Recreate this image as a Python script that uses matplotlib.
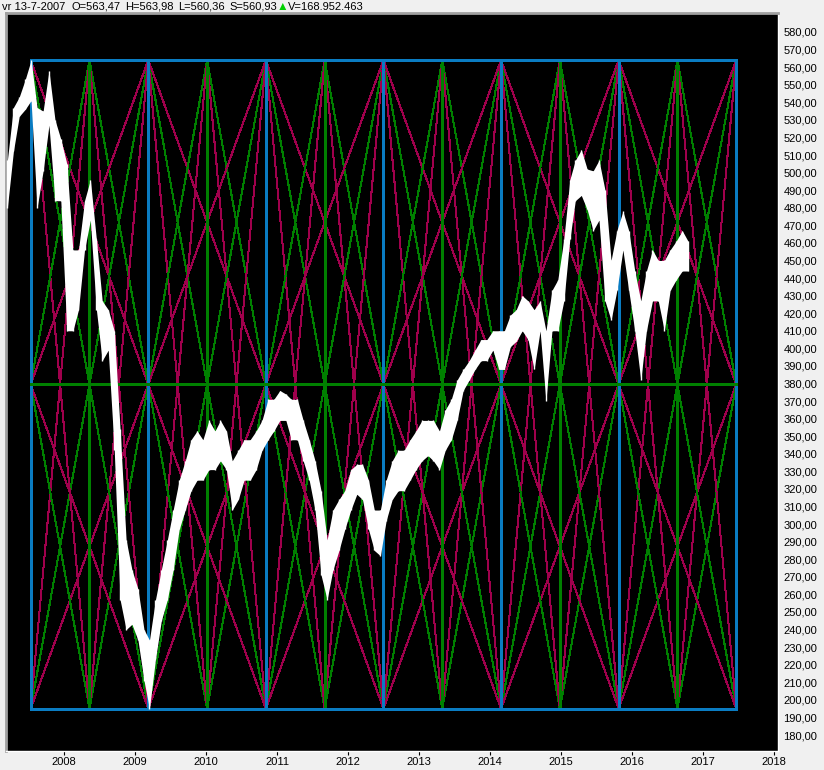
import numpy as np
import matplotlib
matplotlib.use('Agg')
import matplotlib.pyplot as plt
import matplotlib.dates as mdates
from matplotlib.ticker import FuncFormatter

#####################   Data   ##################################
# monthly ranges (index points), Mar 2007 .. Oct 2016
months = np.arange('2007-03', '2016-11', dtype='datetime64[M]')
price_lo = [480, 512, 532, 536, 541, 480, 501, 527, 484, 484,
            410, 410, 422, 456, 473, 422, 393, 399, 342, 257, 240, 243,
            234, 211, 195, 223, 245, 257, 274, 297, 308, 319, 325, 325,
            331, 331, 336, 331, 308, 314, 325, 325, 331, 342, 348, 353,
            359, 359, 348, 348, 336, 325, 308, 271, 257, 274, 285, 297,
            308, 317, 314, 297, 285, 282, 302, 314, 319, 319, 325, 331,
            336, 339, 336, 331, 342, 348, 359, 376, 382, 388, 393, 393,
            399, 388, 388, 401, 404, 410, 405, 388, 410, 370, 410, 410,
            427, 462, 484, 487, 479, 467, 473, 427, 416, 433, 456, 433,
            410, 382, 410, 427, 427, 410, 433, 439, 444, 444]
price_hi = [507, 537, 543, 553, 564, 537, 535, 558, 530, 519,
            505, 456, 456, 484, 496, 462, 427, 422, 410, 354, 291, 274,
            263, 240, 234, 257, 274, 291, 308, 325, 336, 348, 353, 348,
            359, 353, 359, 353, 336, 342, 348, 348, 353, 359, 371, 371,
            376, 374, 371, 371, 359, 348, 336, 319, 291, 308, 314, 319,
            331, 334, 334, 325, 308, 308, 325, 336, 342, 342, 348, 353,
            359, 359, 359, 353, 365, 371, 382, 388, 393, 399, 405, 405,
            410, 410, 410, 419, 422, 430, 427, 422, 427, 410, 433, 439,
            462, 496, 507, 513, 502, 501, 507, 490, 450, 467, 478, 467,
            444, 427, 444, 456, 450, 450, 456, 461, 467, 461]

# header of the selected bar
hdr_date = 'vr 13-7-2007'
hdr_ohlc = ['O=563,47', 'H=563,98', 'L=560,36', 'S=560,93']
hdr_vol = 'V=168.952.463'

# pivots that define the cycle box (high = cycle 0, low = cycle 2)
pivot_high_date = '2007-07-13'
pivot_high = 563.98
pivot_low_date = '2009-03-09'
pivot_low = 194.99
n_seg = 12

blue = '#0a7cc2'
green = '#008000'
red = '#a0004c'

plt.rcParams['font.family'] = ['Liberation Sans', 'DejaVu Sans']
plt.rcParams['font.size'] = 8

fig = plt.figure(figsize=(8.24, 7.7), dpi=100)
fig.patch.set_facecolor('#f0f0f0')
ax = fig.add_axes([6 / 824, 19 / 770, 772 / 824, 738 / 770])
ax.set_facecolor('black')

################# CYCLE GRID ######################
t0 = mdates.date2num(np.datetime64(pivot_high_date))
t1 = mdates.date2num(np.datetime64(pivot_low_date))
seg = (t1 - t0) / 2
xk = t0 + seg * np.arange(n_seg + 1)
mid = (pivot_high + pivot_low) / 2
xmin, xmax = xk[0], xk[-1]

kw = dict(lw=0.75, antialiased=False)


def fan(x, apex, dx, col):
    # straight line from the apex to the mid line, cut at the box sides
    xe = x + dx
    ye = mid
    if xe < xmin or xe > xmax:
        xc = xmin if xe < xmin else xmax
        ye = apex + (mid - apex) * (xc - x) / dx
        xe = xc
    ax.plot([x, xe], [apex, ye], color=col, **kw)


for k, x in enumerate(xk):
    for apex in (pivot_high, pivot_low):
        fans = [(seg, green), (seg / 2, red)]
        if k % 2 == 0:
            fans.append((2 * seg, red))
        for dx, col in fans:
            fan(x, apex, -dx, col)
            fan(x, apex, dx, col)
for k, x in enumerate(xk):
    ax.plot([x, x], [pivot_low, pivot_high], color=blue if k % 2 == 0 else green, **kw)
ax.plot([xmin, xmax], [mid, mid], color=green, **kw)
ax.plot([xmin, xmax], [pivot_high, pivot_high], color=blue, **kw)
ax.plot([xmin, xmax], [pivot_low, pivot_low], color=blue, **kw)

################# PRICE ######################
dates = mdates.date2num(months + np.timedelta64(14, 'D'))
ax.fill_between(dates, price_lo, price_hi, color='white', lw=0, zorder=5)
ax.vlines(dates, price_lo, price_hi, color='white', lw=1, zorder=5)

################# AXES ######################
ax.set_xlim(mdates.date2num(np.datetime64('2007-03-08')),
            mdates.date2num(np.datetime64('2018-01-21')))
ax.set_ylim(170.9, 590.8)
ax.yaxis.tick_right()
ax.set_yticks(np.arange(180, 590, 10))
ax.yaxis.set_major_formatter(FuncFormatter(lambda v, p: f'{v:.2f}'.replace('.', ',')))
ax.tick_params(axis='y', length=0, pad=4, labelsize=8)
ax.xaxis.set_major_locator(mdates.YearLocator())
ax.xaxis.set_major_formatter(mdates.DateFormatter('%Y'))
ax.tick_params(axis='x', length=3, pad=1, labelsize=8)
for side in ('left', 'top'):
    ax.spines[side].set_color('#a0a0a0')
    ax.spines[side].set_linewidth(2)
for side in ('right', 'bottom'):
    ax.spines[side].set_color('white')
    ax.spines[side].set_linewidth(1)

################# HEADER ######################
yh = 1 - 6.5 / 770
fig.text(2 / 824, yh, hdr_date, va='center', fontsize=8)
for txt, px in zip(hdr_ohlc, [72, 125, 178, 229]):
    fig.text(px / 824, yh, txt, va='center', fontsize=8)
fig.text(277 / 824, yh, '\u25b2', va='center', fontsize=8.5, color='#00d000')
fig.text(288 / 824, yh, hdr_vol, va='center', fontsize=8)

plt.savefig('out.png', dpi=100, facecolor=fig.get_facecolor())
